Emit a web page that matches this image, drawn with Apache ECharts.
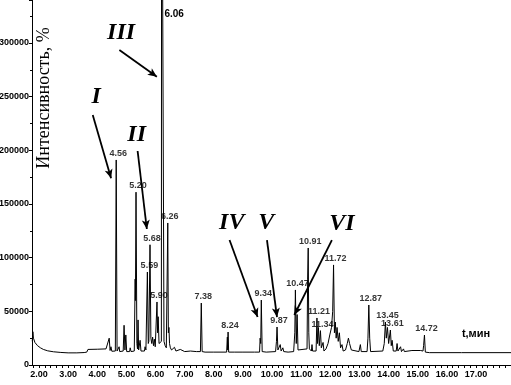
<!DOCTYPE html>
<html><head><meta charset="utf-8">
<script src="https://cdn.jsdelivr.net/npm/echarts@6/dist/echarts.min.js"></script>
<style>html,body{margin:0;padding:0;background:#fff}#c{width:511px;height:385px}</style>
</head><body><div id="c"></div>
<script>
// x-axis tick labels (minutes)
const xTickLabels = [2,3,4,5,6,7,8,9,10,11,12,13,14,15,16,17];
// chromatogram trace (time, min / intensity) — unlabeled points
const traceT = [1.77,1.79,1.81,1.86,1.95,2.05,2.15,2.30,2.50,2.75,3.00,3.30,3.55,3.64,3.68,4.00,4.30,4.36,4.41,4.44,4.47,4.50,4.62,
 4.68,4.73,4.75,4.77,4.89,4.92,4.95,4.98,5.01,5.11,5.13,5.16,5.27,5.30,5.31,
 5.36,5.38,5.40,5.42,5.47,5.50,5.62,5.64,5.67,5.75,5.77,5.84,5.87,5.90,5.93,5.96,5.99,6.02,
 6.07,6.09,6.12,6.17,6.20,6.21,6.27,6.29,6.33,6.37,
 6.44,6.46,6.48,6.51,6.55,6.65,6.70,6.85,7.00,7.20,7.40,7.54,
 7.60,7.70,8.00,8.44,8.465,8.475,8.51,8.70,9.00,9.40,9.57,9.59,9.61,
 9.66,9.80,10.12,10.15,10.20,10.25,10.28,10.31,10.35,10.37,10.40,10.55,10.74,10.78,
 10.83,10.86,10.89,11.20,11.22,11.26,11.28,11.35,11.37,11.39,11.51,
 11.56,11.59,11.62,11.69,11.75,11.78,11.85,11.92,11.98,12.04,12.08,
 12.14,12.17,12.20,12.23,12.27,12.31,12.35,12.40,12.44,12.52,12.58,12.62,12.66,12.72,12.98,13.03,13.06,13.26,13.29,
 13.35,13.38,13.80,13.85,13.92,13.96,14.00,14.09,14.12,14.16,14.26,14.29,14.32,14.38,14.41,14.44,14.48,14.51,14.54,14.80,15.10,15.18,15.20,
 15.26,15.40,16.50,18.20];
const traceI = [22000,31000,25000,21000,18000,16000,14500,13200,12300,11700,11300,11300,11600,12000,14500,14700,15000,14500,25000,13500,17000,12800,13000,
 13000,12500,17000,12500,13000,37000,14000,28000,12500,12500,16000,12500,13000,80000,60000,
 20000,15000,42000,14000,23000,13000,13000,17000,14000,20000,22000,25000,20000,26000,18000,24000,17000,18000,
 30000,45000,20000,20000,22000,600000,600000,22000,18000,16000,
 30000,35000,20000,16000,14000,16500,13000,14500,12500,13000,12500,12500,
 12500,12000,12000,12000,26000,14000,12000,12000,12000,12000,12000,25000,20000,
 12500,12000,12500,22000,14000,13000,19000,13000,13000,16000,12500,12000,12500,30000,
 20000,47000,14000,15000,80000,30000,15000,13000,19000,13000,13000,
 20000,35000,18000,16000,21000,13000,15000,20000,28000,35000,50000,
 30000,40000,25000,35000,22000,30000,16000,19000,13000,14000,20000,25000,20000,14000,12500,19000,12500,12500,25000,
 25000,12500,13000,20000,25000,35000,20000,18000,23000,13000,13000,20000,13000,13000,17000,12500,12500,15000,12500,13500,13500,13000,18000,
 12000,11500,11500,11500];
// labeled peaks
const peakT = [4.65,5.33,5.72,5.81,6.05,6.42,7.57,8.49,9.63,10.17,10.80,11.24,11.54,11.66,12.11,13.32,13.89,14.06,15.23];
const peakI = [191000,161000,86600,112000,58700,132300,57700,30700,60500,35400,69900,109000,43800,32000,93200,55900,40000,32600,27900];
const peakText = ['4.56','5.20','5.59','5.68','5.90','6.26','7.38','8.24','9.34','9.87','10.47','10.91','11.21','11.34','11.72','12.87','13.45','13.61','14.72'];
const mainPeakText = '6.06';
const romanText = ['I','II','III','IV','V','VI'];
const yTitle = 'Интенсивность, %';
const xTitle = 't,мин';

const pts = [];
for (let i = 0; i < traceT.length; i++) pts.push([traceT[i], traceI[i]]);
for (let i = 0; i < peakT.length; i++) pts.push([peakT[i], peakI[i]]);
pts.sort((a, b) => a[0] - b[0]);

const xTicks = [];
for (const v of xTickLabels) for (let k = 0; k < 5; k++) xTicks.push(+(v - 0.2 + k * 0.2).toFixed(2));
xTicks.push(17.2,17.4,17.6,17.8,18.0);

const numFont = {fontFamily: 'Liberation Sans', fontSize: 9, fontWeight: 'bold', color: '#000'};
const romanLabel = {show: true, position: 'inside', formatter: '{b}', fontFamily: 'Liberation Serif',
  fontSize: 24, fontWeight: 'bold', fontStyle: 'italic', color: '#000'};

const chart = echarts.init(document.getElementById('c'), null, {renderer: 'canvas'});
chart.setOption({
  animation: false,
  backgroundColor: '#fff',
  grid: {left: 32, right: 0, top: 0, bottom: 20, containLabel: false, outerBoundsMode: 'none'},
  xAxis: {
    type: 'value', min: 1.76, max: 18.2,
    axisLine: {lineStyle: {color: '#000', width: 1}},
    axisTick: {show: true, length: 3, customValues: xTicks, lineStyle: {color: '#000'}},
    axisLabel: Object.assign({customValues: xTickLabels, margin: 5, formatter: v => v.toFixed(2)}, numFont),
    splitLine: {show: false}
  },
  yAxis: {
    type: 'value', min: 0, max: 340000, interval: 50000,
    axisLine: {show: true, lineStyle: {color: '#000', width: 1}},
    axisTick: {show: true, length: 3, lineStyle: {color: '#000'}},
    minorTick: {show: true, splitNumber: 2, length: 2, lineStyle: {color: '#000'}},
    axisLabel: Object.assign({margin: 3, showMaxLabel: false, formatter: v => String(v)}, numFont),
    splitLine: {show: false}
  },
  graphic: [{
    type: 'text', x: 44, y: 98, rotation: Math.PI / 2,
    style: {text: yTitle, fontFamily: 'Liberation Serif', fontSize: 18, fill: '#000',
      textAlign: 'center', textVerticalAlign: 'middle'}
  }],
  series: [{
    type: 'line', data: pts, showSymbol: false, clip: true, sampling: null,
    lineStyle: {color: '#000', width: 1}, silent: true,
    markLine: {
      silent: true, animation: false, symbol: ['none', 'arrow'], symbolSize: [6, 9],
      label: {show: false}, lineStyle: {color: '#000', width: 1.8, type: 'solid'},
      data: [
        [{coord: [3.845, 232900]}, {coord: [4.474, 173900]}],
        [{coord: [5.385, 199350]}, {coord: [5.701, 126700]}],
        [{coord: [4.759, 293400]}, {coord: [6.045, 268600]}],
        [{coord: [8.540, 116400]}, {coord: [9.502, 44700]}],
        [{coord: [9.825, 116400]}, {coord: [10.168, 44700]}],
        [{coord: [12.052, 116400]}, {coord: [10.763, 46600]}]
      ]
    }
  }, {
    type: 'scatter', symbolSize: 1, itemStyle: {color: 'rgba(0,0,0,0)'}, silent: true,
    data: peakT.map((t, i) => [t, peakI[i]]),
    label: Object.assign({show: true, position: 'top', distance: 1.5, offset: [2, 0], lineHeight: 9,
      formatter: p => peakText[p.dataIndex]}, numFont),
    markPoint: {
      silent: true, animation: false, symbol: 'circle', symbolSize: 1, itemStyle: {color: 'rgba(0,0,0,0)'},
      data: [
        {name: romanText[0], coord: [3.959, 250100], label: romanLabel},
        {name: romanText[1], coord: [5.351, 214700], label: romanLabel},
        {name: romanText[2], coord: [4.818, 309700], label: romanLabel},
        {name: romanText[3], coord: [8.615, 132700], label: romanLabel},
        {name: romanText[4], coord: [9.801, 132700], label: romanLabel},
        {name: romanText[5], coord: [12.395, 131800], label: romanLabel},
        {name: mainPeakText, coord: [6.64, 326500], label: {show: true, position: 'inside', formatter: '{b}',
          fontFamily: 'Liberation Sans', fontSize: 10, fontWeight: 'bold', color: '#000'}},
        {name: xTitle, coord: [17.0, 29300], label: {show: true, position: 'inside', formatter: '{b}',
          fontFamily: 'Liberation Sans', fontSize: 11, fontWeight: 'bold', color: '#000'}}
      ]
    }
  }]
});
</script></body></html>
